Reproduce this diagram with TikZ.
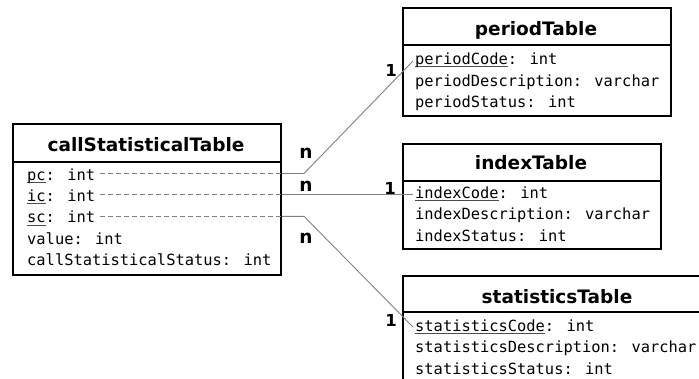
\documentclass[tikz,border=0pt]{standalone}
\usepackage{fontspec}
\setmainfont{DejaVu Sans}
\newfontfamily\monofont{DejaVu Sans Mono}
\definecolor{connector}{gray}{0.5}
% underline a key attribute just under the baseline
\newcommand{\keyul}[1]{\setbox0\hbox{#1}\rlap{\color{black!70}\rule[-2.6pt]{\wd0}{0.8pt}}\box0}
\tikzset{
  tablebox/.style={draw=black, line width=2pt, rectangle, inner sep=0pt, anchor=north west},
  tablerule/.style={draw=black, line width=2pt},
  tabletitle/.style={inner sep=0pt, anchor=base, font=\fontsize{18.5}{20}\selectfont\bfseries},
  attr/.style={inner sep=0pt, anchor=base west, text height=13pt, text depth=0pt,
    font=\monofont\fontsize{15.4}{18}\selectfont},
  fk/.style={draw=connector, line width=0.9pt},
  fkdash/.style={fk, dash pattern=on 5pt off 3pt},
  manyside/.style={inner sep=0pt, font=\fontsize{18.5}{20}\selectfont\bfseries},
  oneside/.style={inner sep=0pt, font=\fontsize{16.5}{18}\selectfont\bfseries}
}
\begin{document}
\begin{tikzpicture}[x=1pt, y=-1pt]
\useasboundingbox (0,0) rectangle (699,378);
\clip (0,0) rectangle (699,378);

% callStatisticalTable
\node[tablebox, minimum width=268pt, minimum height=151pt] (cst) at (12,123) {};
\draw[tablerule] (cst.west |- 0,162) -- (cst.east |- 0,162);
\node[tabletitle] (cstT) at (146,151) {callStatisticalTable};
\node[attr] (pc) at (27,180) {\keyul{pc}: int};
\node[attr] (ic) at (27,201.4) {\keyul{ic}: int};
\node[attr] (sc) at (27,222.8) {\keyul{sc}: int};
\node[attr] (val) at (27,244.2) {value: int};
\node[attr] (cstS) at (27,265.6) {callStatisticalStatus: int};

% periodTable
\node[tablebox, minimum width=268pt, minimum height=108pt] (per) at (402,7) {};
\draw[tablerule] (per.west |- 0,45) -- (per.east |- 0,45);
\node[tabletitle] (perT) at (536,35) {periodTable};
\node[attr] (pcode) at (415,64.5) {\keyul{periodCode}: int};
\node[attr] (pdesc) at (415,86) {periodDescription: varchar};
\node[attr] (pstat) at (415,107.5) {periodStatus: int};

% indexTable
\node[tablebox, minimum width=258pt, minimum height=105pt] (idx) at (402,143) {};
\draw[tablerule] (idx.west |- 0,181) -- (idx.east |- 0,181);
\node[tabletitle] (idxT) at (531,169) {indexTable};
\node[attr] (icode) at (415,198) {\keyul{indexCode}: int};
\node[attr] (idesc) at (415,219.5) {indexDescription: varchar};
\node[attr] (istat) at (415,241) {indexStatus: int};

% statisticsTable
\node[tablebox, minimum width=310pt, minimum height=120pt] (sta) at (402,275) {};
\draw[tablerule] (sta.west |- 0,312) -- (sta.east |- 0,312);
\node[tabletitle] (staT) at (557,303) {statisticsTable};
\node[attr] (scode) at (415,331) {\keyul{statisticsCode}: int};
\node[attr] (sdesc) at (415,352.5) {statisticsDescription: varchar};
\node[attr] (sstat) at (415,374) {statisticsStatus: int};

% foreign key connectors
\draw[fkdash] ([xshift=5pt]pc.east) -- (pc -| cst.east);
\draw[fkdash] ([xshift=5pt]ic.east) -- (ic -| cst.east);
\draw[fkdash] ([xshift=5pt]sc.east) -- (sc -| cst.east);
\coordinate (pcbend) at ([xshift=22pt]pc -| cst.east);
\coordinate (scbend) at ([xshift=22pt]sc -| cst.east);
\draw[fk] (pc -| cst.east) -- (pcbend) -- ([xshift=-2pt,yshift=3.5pt]pcode.base west);
\draw[fk] (ic -| cst.east) -- ([xshift=-2pt]icode.west |- ic);
\draw[fk] (sc -| cst.east) -- (scbend) -- ([xshift=-2pt,yshift=4pt]scode.base west);

% cardinalities
\node[manyside] (n1) at (306,153) {n};
\node[manyside] (n2) at (306,186.5) {n};
\node[manyside] (n3) at (306,238) {n};
\node[oneside] (o1) at (391,70) {1};
\node[oneside] (o2) at (390,188) {1};
\node[oneside] (o3) at (391,320) {1};
\end{tikzpicture}
\end{document}
